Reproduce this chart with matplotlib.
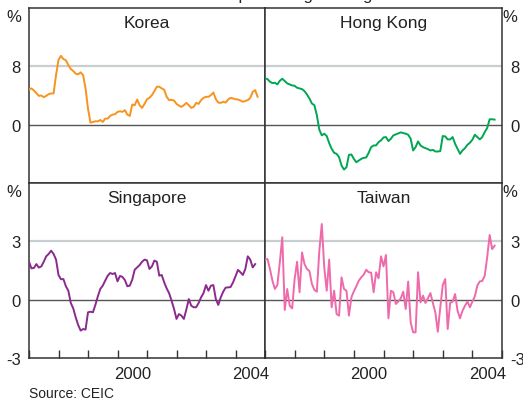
import numpy as np
import matplotlib
matplotlib.use("Agg")
import matplotlib.pyplot as plt
from matplotlib.ticker import FixedLocator, NullFormatter, FixedFormatter

plt.rcParams['font.family'] = ['Liberation Sans', 'DejaVu Sans']

# Monthly year-ended percentage change, starting January 1997
korea = [4.83, 4.97, 4.69, 4.32, 3.95, 4.0, 3.77, 3.95, 4.18, 4.28, 4.28, 6.8,
         8.87, 9.43, 9.0, 8.83, 8.18, 7.63, 7.36, 6.99, 6.9, 7.17, 6.8, 4.97,
         2.2, 0.28, 0.37, 0.46, 0.46, 0.64, 0.37, 0.83, 0.83, 1.2, 1.38, 1.43,
         1.75, 1.84, 1.75, 1.98, 1.38, 1.2, 2.76, 2.67, 3.45, 2.67, 2.3, 2.85,
         3.49, 3.68, 4.05, 4.6, 5.2, 5.2, 4.97, 4.78, 3.82, 3.36, 3.4, 3.31,
         2.85, 2.62, 2.44, 2.67, 2.99, 2.67, 2.3, 2.44, 2.99, 2.85, 3.36, 3.68,
         3.82, 3.82, 4.05, 4.41, 3.49, 3.03, 2.99, 3.13, 3.03, 3.45, 3.68, 3.59,
         3.49, 3.45, 3.31, 3.13, 3.26, 3.36, 3.68, 4.5, 4.74, 3.82]

hong_kong = [6.34, 6.25, 5.89, 5.7, 5.75, 5.52, 6.02, 6.3, 5.98, 5.66, 5.52, 5.38,
             5.33, 5.06, 4.97, 4.87, 4.6, 4.14, 3.59, 2.9, 2.67, 1.29, -0.69, -1.47,
             -1.24, -1.56, -2.53, -3.31, -3.86, -4.0, -4.46, -5.6, -6.16, -5.84, -4.14, -4.09,
             -4.69, -5.15, -4.92, -4.69, -4.55, -4.5, -3.86, -3.08, -2.85, -2.85, -2.39, -2.16,
             -1.75, -1.7, -2.25, -1.93, -1.47, -1.33, -1.2, -1.06, -1.15, -1.24, -1.38, -1.93,
             -3.54, -3.08, -2.3, -2.85, -3.08, -3.22, -3.36, -3.54, -3.45, -3.68, -3.68, -3.63,
             -1.56, -1.61, -2.02, -2.02, -1.7, -2.62, -3.31, -4.0, -3.54, -3.22, -2.76, -2.48,
             -2.07, -1.38, -1.7, -2.02, -1.7, -1.01, -0.46, 0.74, 0.74, 0.69]

singapore = [1.95, 1.61, 1.63, 1.83, 1.65, 1.71, 1.95, 2.23, 2.35, 2.52, 2.35, 2.06,
             1.27, 1.05, 1.06, 0.69, 0.46, -0.17, -0.45, -0.91, -1.3, -1.59, -1.51, -1.54,
             -0.65, -0.62, -0.65, -0.27, 0.17, 0.55, 0.72, 0.98, 1.23, 1.37, 1.32, 1.37,
             0.94, 1.22, 1.17, 1.01, 0.69, 0.72, 1.03, 1.54, 1.66, 1.78, 1.95, 2.06,
             2.02, 1.58, 1.71, 2.01, 1.95, 1.23, 1.27, 0.89, 0.58, 0.33, -0.05, -0.48,
             -0.99, -0.74, -0.82, -0.99, -0.51, 0.03, -0.31, -0.39, -0.39, -0.17, 0.12, 0.34,
             0.75, 0.46, 0.72, 0.75, 0.03, -0.27, 0.12, 0.41, 0.62, 0.63, 0.65, 0.89,
             1.2, 1.53, 1.41, 1.27, 1.58, 2.23, 2.06, 1.66, 1.83]

taiwan = [2.06, 2.09, 1.58, 0.98, 0.55, 0.75, 1.92, 3.21, -0.53, 0.55, -0.31, -0.45,
          1.06, 1.95, 0.38, 2.43, 1.83, 1.58, 1.47, 0.81, 0.5, 0.41, 2.5, 3.89,
          1.66, 0.46, 2.06, -0.39, 0.46, -0.74, -0.82, 1.15, 0.55, 0.46, -0.82, 0.12,
          0.43, 0.69, 0.98, 1.15, 1.29, 1.54, 1.41, 1.39, 0.38, 1.41, 1.1, 2.23,
          1.71, 2.3, -0.96, 0.46, 0.38, -0.22, -0.09, 0.07, 0.41, -0.48, 0.93, -1.17,
          -1.68, -1.68, 1.41, -0.14, 0.21, -0.17, 0.07, 0.34, -0.17, -0.65, -1.65, -0.39,
          0.75, 1.06, -1.51, -0.17, -0.1, 0.29, -0.57, -0.96, -0.57, -0.31, -0.1, -0.39,
          -0.1, 0.17, 0.72, 0.94, 0.96, 1.23, 2.18, 3.33, 2.6, 2.78]

start_year = 1997
end_year = 2005
year_labels = ["2000", "2004"]
year_label_pos = [2000.5, 2004.5]

panels = [
    ("Korea", korea, "#F7931E", (-8, 16), [0, 8], ["0", "8"], 8, "left", "top"),
    ("Hong Kong", hong_kong, "#00A651", (-8, 16), [0, 8], ["0", "8"], 8, "right", "top"),
    ("Singapore", singapore, "#8B2A8E", (-3, 6), [-3, 0, 3], ["-3", "0", "3"], 3, "left", "bottom"),
    ("Taiwan", taiwan, "#EE6AAA", (-3, 6), [-3, 0, 3], ["-3", "0", "3"], 3, "right", "bottom"),
]

W, H = 523, 402
fig = plt.figure(figsize=(W / 100, H / 100), dpi=100)

x_left, x_mid, x_right = 29, 265, 502
y_top, y_mid, y_bot = 9, 184, 359

text_col = "#222222"
spine_col = "#333333"

fig.text(265 / W, 1 - 0.3 / H, "Year-ended percentage change", ha="center",
         va="baseline", fontsize=12, color=text_col)

for name, vals, col, ylim, yt, ytl, grid_y, side, row in panels:
    x0 = x_left if side == "left" else x_mid
    x1 = x_mid if side == "left" else x_right
    yt0 = y_top if row == "top" else y_mid
    yb0 = y_mid if row == "top" else y_bot
    ax = fig.add_axes([x0 / W, 1 - yb0 / H, (x1 - x0) / W, (yb0 - yt0) / H])

    t = start_year + np.arange(len(vals)) / 12.0
    ax.axhline(grid_y, color="#C9CED1", lw=1.6, zorder=1)
    ax.axhline(0, color="#555555", lw=1.0, zorder=1)
    ax.plot(t, vals, color=col, lw=1.4, zorder=3, solid_joinstyle="round")

    ax.set_xlim(start_year, end_year)
    ax.set_ylim(*ylim)

    for s in ax.spines.values():
        s.set_color(spine_col)
        s.set_linewidth(1.1)

    # y ticks
    ax.set_yticks(yt)
    ax.set_yticklabels(ytl)
    if side == "left":
        ax.yaxis.tick_left()
    else:
        ax.yaxis.tick_right()
    ax.tick_params(axis="y", length=0, pad=6, labelsize=12, colors=text_col)

    # x ticks
    if row == "bottom":
        ax.xaxis.set_major_locator(FixedLocator(np.arange(start_year, end_year + 1)))
        ax.xaxis.set_major_formatter(NullFormatter())
        ax.xaxis.set_minor_locator(FixedLocator(year_label_pos))
        ax.xaxis.set_minor_formatter(FixedFormatter(year_labels))
        ax.tick_params(axis="x", which="major", direction="in", length=6,
                       width=1.0, color=spine_col)
        ax.tick_params(axis="x", which="minor", length=0, pad=6,
                       labelsize=12, labelcolor=text_col)
    else:
        ax.set_xticks([])

    ax.text(0.5, 1 - 19 / (yb0 - yt0), name, transform=ax.transAxes,
            ha="center", va="baseline", fontsize=12.5, color=text_col)

    # percent unit marker above the value labels
    px = 14 if side == "left" else 510
    fig.text(px / W, 1 - (yt0 + 13) / H, "%", ha="center", va="baseline",
             fontsize=12, color=text_col)

fig.text(29 / W, 1 - 398.5 / H, "Source: CEIC", ha="left", va="baseline",
         fontsize=10, color=text_col)

fig.savefig("out.png", dpi=100)
